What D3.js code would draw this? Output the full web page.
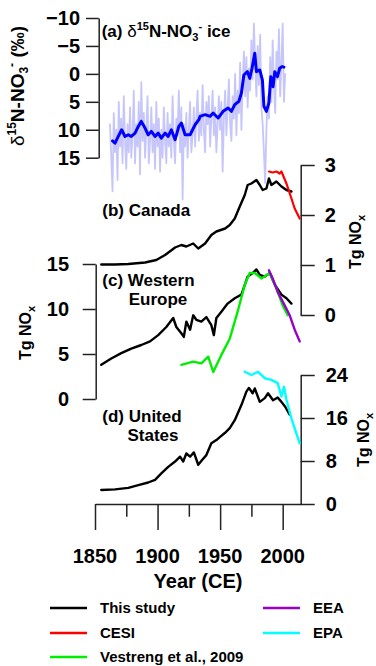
<!DOCTYPE html>
<html><head><meta charset="utf-8">
<script src="https://cdn.jsdelivr.net/npm/d3@7"></script>
<style>
body{margin:0;background:#fff}
svg{display:block}
text{font-family:"Liberation Sans",Arial,sans-serif;font-weight:bold;fill:#000}
</style></head>
<body><svg id="chart" width="376" height="666"></svg>
<script>
// ---------------- DATA ----------------
const yearTicks = [1850, 1875, 1900, 1925, 1950, 1975, 2000];
const yearLabels = [1850, 1900, 1950, 2000];
const iceTicks = [-10, -5, 0, 5, 10, 15];
const canadaTicks = [0, 1, 2, 3];
const europeTicks = [0, 5, 10, 15];
const usTicks = [0, 8, 16, 24];

// (a) ice core d15N-NO3- : raw annual values (first year 1862) and smoothed series
const iceRawStart = 1862;
const iceRaw = [
  9,15,21,7,14,10,19,5,
  13,8,16,4,12,17,9,14,6,15,
  11,3,16,9,13,5,18,1.5,12,7,
  15,10,4,16,12,6,14,9,17,5,
  13,8,17.5,10,15,6,12,16,7,13,
  9,15,4,12,16,8,11,3,14,6,
  22.5,9,13,7,15,10,5,14,11,6,
  13,8,3,12,7,11,2,10,14,5,
  9,4,13,8,3,11,6,14,9,4,
  10,5,17.5,8,3,11,6,1,9,12,
  4,8,0,11,3,7,-2,10,2,-4,
  4,-3,6,-1,3,-6,1,-9,-2,4,
  -5,2,-7,6,9,14,19.5,10,4,8,
  -3,5,-6,2,7,-4,1,-8,4,-2,
  -9,5,0
];
const iceSmooth = [
  [1864,12.0],[1866,12.4],[1868.6,11.2],[1871.3,10.0],[1874,11.2],[1876.6,10.9],
  [1879,11.2],[1882,10.6],[1884.6,9.4],[1887,8.5],[1890,9.7],[1892.5,10.9],
  [1895,10.3],[1898,11.2],[1900.5,10.6],[1903,11.5],[1906,10.6],[1908.5,11.2],
  [1911,10.0],[1914,11.8],[1917,9.4],[1919,8.8],[1922,10.9],[1926,10.9],
  [1930,9.1],[1933,8.2],[1934,7.6],[1938,7.3],[1942,7.6],[1944.4,7.0],
  [1948.4,7.9],[1952.4,6.7],[1956.4,6.1],[1959,6.7],[1961.7,5.5],[1965,4.9],
  [1967,3.45],[1969,0.2],[1971.8,-0.4],[1973.7,0.8],[1975.5,-1.0],[1977.7,-3.7],
  [1979,-0.4],[1981.7,-0.7],[1983.8,1.1],[1985,5.8],[1987,6.7],[1989,5.2],
  [1990.5,0.5],[1992.3,2.3],[1993.7,-0.4],[1995.8,0.5],[1997.6,-1.0],[1999.5,-1.3],[2001,-1.2]
];

// (b) Canada, Tg NOx (right axis 0-3)
const canadaThis = [
  [1855,1.01],[1866,1.01],[1876.6,1.02],[1890,1.05],[1899,1.1],[1906,1.2],[1914,1.35],
  [1919,1.4],[1923,1.37],[1928.5,1.43],[1932.5,1.33],[1938,1.43],[1943,1.6],[1947,1.67],
  [1954,1.73],[1957.7,1.8],[1961.7,1.93],[1965.7,2.17],[1969.7,2.4],[1972,2.6],[1975,2.63],
  [1979,2.7],[1981.7,2.6],[1984,2.5],[1987,2.53],[1989,2.73],[1991,2.6],[1995,2.67],
  [1999,2.57],[2003,2.5],[2007,2.47]
];
const canadaCESI = [
  [1989,2.87],[1992,2.85],[1995,2.87],[1997.6,2.83],[1999,2.87],[2003,2.63],
  [2007,2.33],[2009.6,2.13],[2013.6,1.93]
];

// (c) Western Europe, Tg NOx (left axis 0-15)
const europeThis = [
  [1855,3.8],[1863,4.5],[1871,5.1],[1879,5.6],[1887,6.0],[1894,6.4],[1900.5,7.1],
  [1907,8.0],[1912.5,9.0],[1915,8.0],[1919,7.3],[1921,6.9],[1923,8.6],[1926,7.7],
  [1928.5,9.3],[1931,8.8],[1935,8.6],[1939,9.1],[1943,8.2],[1945,7.1],[1947,9.0],
  [1951,9.7],[1956,10.6],[1961.7,11.2],[1967,11.6],[1972,13.6],[1976,14.0],[1979,14.4],
  [1981.7,13.8],[1985.7,13.6],[1989.7,14.0],[1993.7,12.7],[1999,11.6],[2003,11.2],[2007,10.6]
];
const europeVestreng = [
  [1919,3.8],[1928.5,4.15],[1935,3.96],[1940.5,4.7],[1944.5,3.0],[1951,4.9],
  [1957.7,6.7],[1964,9.7],[1969.7,12.7],[1973.7,14.0],[1977.7,14.0],[1983,13.4],
  [1989.7,14.0],[1995,12.3],[2000,10.4],[2004,9.3]
];
const europeEEA = [
  [1989,14.3],[1992,13.4],[1996,11.9],[2001.6,10.4],[2005.6,9.3],[2009.6,7.7],[2013.6,6.4]
];

// (d) United States, Tg NOx (right axis 0-24)
const usThis = [
  [1855,2.6],[1866,2.73],[1876.6,3.0],[1884.6,3.5],[1892.5,4.0],[1898,4.5],[1903,5.7],
  [1908.5,6.9],[1914,7.9],[1918,8.8],[1920.5,7.9],[1923,9.4],[1926,8.8],[1929,9.6],
  [1932.5,7.3],[1935.6,8.2],[1939,9.1],[1943,11.3],[1947,11.9],[1950,12.5],[1953.7,13.2],
  [1957.7,14.1],[1961.7,15.6],[1967,18.4],[1971,20.9],[1973,21.6],[1976,20.6],
  [1977.7,21.5],[1981.7,19.0],[1985.7,19.7],[1988.3,20.6],[1992.3,19.3],[1996,19.8],
  [1999,19.0],[2002,18.1],[2005.6,16.6]
];
const usEPA = [
  [1969.7,24.6],[1975,24.0],[1980.3,24.6],[1985.7,23.4],[1991,23.1],[1996,22.5],
  [1999,20.0],[2001,21.8],[2003,19.4],[2007,15.9],[2013.6,11.3]
];

const legendItems = [
  {label:"This study", color:"#000000"},
  {label:"CESI", color:"#ff0000"},
  {label:"Vestreng et al., 2009", color:"#00ee00"},
  {label:"EEA", color:"#9900cc"},
  {label:"EPA", color:"#00ffff"}
];

// ---------------- SCALES ----------------
const svg = d3.select("#chart");
const x = d3.scaleLinear().domain([1850, 2014.4]).range([95, 300.7]);
const yA = d3.scaleLinear().domain([-10, 15]).range([18, 157.7]);
const yB = d3.scaleLinear().domain([0, 3]).range([315, 165]);
const yC = d3.scaleLinear().domain([0, 15]).range([399, 264]);
const yD = d3.scaleLinear().domain([0, 24]).range([504, 375]);

const AX = "#222";
const fmt = d3.format("d");
function styleAxis(g){
  g.selectAll("path.domain").attr("stroke", AX).attr("stroke-width", 1.5);
  g.selectAll(".tick line").attr("stroke", AX).attr("stroke-width", 1.5);
  g.selectAll(".tick text").attr("font-size", 20).attr("font-weight", "bold")
    .attr("fill", "#000").attr("font-family", '"Liberation Sans",Arial,sans-serif');
}

// ---------------- AXES ----------------
svg.append("g").attr("transform","translate(98.7,0)")
  .call(d3.axisLeft(yA).tickValues(iceTicks).tickFormat(fmt).tickSize(12.7).tickSizeOuter(0).tickPadding(6))
  .call(styleAxis);

svg.append("g").attr("transform","translate(300.7,0)")
  .call(d3.axisRight(yB).tickValues(canadaTicks).tickFormat(fmt).tickSize(14).tickSizeOuter(0).tickPadding(10))
  .call(styleAxis);

svg.append("g").attr("transform","translate(95.7,0)")
  .call(d3.axisLeft(yC).tickValues(europeTicks).tickFormat(fmt).tickSize(13).tickSizeOuter(0).tickPadding(13.7))
  .call(styleAxis);

svg.append("g").attr("transform","translate(300.7,0)")
  .call(d3.axisRight(yD).tickValues(usTicks).tickFormat(fmt).tickSize(14).tickSizeOuter(0).tickPadding(11))
  .call(styleAxis);

const xg = svg.append("g").attr("transform","translate(0,504)")
  .call(d3.axisBottom(x).tickValues(yearTicks).tickSize(26).tickSizeOuter(0).tickFormat(""))
  .call(styleAxis);
xg.selectAll(".tick line").attr("y2", d => yearLabels.includes(d) ? 26 : 12.7);

svg.append("g").selectAll("text").data(yearLabels).join("text")
  .attr("x", d => x(d)).attr("y", 563).attr("text-anchor","middle")
  .attr("font-size", 20).text(d => d);
svg.append("text").attr("x", 198).attr("y", 588).attr("text-anchor","middle")
  .attr("font-size", 20).text("Year (CE)");

// ---------------- LINES ----------------
function draw(data, yS, color, w){
  svg.append("path").datum(data)
    .attr("fill","none").attr("stroke",color).attr("stroke-width",w)
    .attr("stroke-linejoin","round").attr("stroke-linecap","round")
    .attr("d", d3.line().x(d => x(d[0])).y(d => yS(d[1])));
}
const iceRawPts = iceRaw.map((v,i) => [iceRawStart + i, v]);
draw(iceRawPts, yA, "#c6c6fb", 1.8);
draw(iceSmooth, yA, "#0000ff", 3);

draw(canadaThis, yB, "#000", 2.4);
draw(canadaCESI, yB, "#ff0000", 2.2);

draw(europeThis, yC, "#000", 2.4);
draw(europeVestreng, yC, "#00ee00", 2.4);
draw(europeEEA, yC, "#9900cc", 2.4);

draw(usThis, yD, "#000", 2.4);
draw(usEPA, yD, "#00ffff", 2.4);

// ---------------- LABELS ----------------
const ta = svg.append("text").attr("x", 101.7).attr("y", 36.7).attr("font-size", 17);
ta.append("tspan").text("(a) ");
ta.append("tspan").attr("font-weight","normal").text("δ");
ta.append("tspan").attr("font-size", 11).attr("dy", -7).text("15");
ta.append("tspan").attr("dy", 7).text("N-NO");
ta.append("tspan").attr("font-size", 11).attr("dy", 4).text("3");
ta.append("tspan").attr("font-size", 11).attr("dy", -11).text("-");
ta.append("tspan").attr("dy", 7).text(" ice");

svg.append("text").attr("x", 102.3).attr("y", 215.7).attr("font-size", 17).text("(b) Canada");
svg.append("text").attr("x", 102.3).attr("y", 285.7).attr("font-size", 17).text("(c) Western");
svg.append("text").attr("x", 158).attr("y", 305).attr("font-size", 17).attr("text-anchor","middle").text("Europe");
svg.append("text").attr("x", 102.3).attr("y", 421.7).attr("font-size", 17).text("(d) United");
svg.append("text").attr("x", 153).attr("y", 441).attr("font-size", 17).attr("text-anchor","middle").text("States");

// rotated y label for panel (a)
const yl = svg.append("text").attr("transform","translate(24,86) rotate(-90)")
  .attr("text-anchor","middle").attr("font-size", 19);
yl.append("tspan").attr("font-weight","normal").text("δ");
yl.append("tspan").attr("font-size", 12).attr("dy", -8).text("15");
yl.append("tspan").attr("dy", 8).text("N-NO");
yl.append("tspan").attr("font-size", 12).attr("dy", 4).text("3");
yl.append("tspan").attr("font-size", 12).attr("dy", -12).text("-");
yl.append("tspan").attr("dy", 8).text(" (‰)");

function tgLabel(cx, cy){
  const t = svg.append("text").attr("transform",`translate(${cx},${cy}) rotate(-90)`)
    .attr("text-anchor","middle").attr("font-size", 16);
  t.append("tspan").text("Tg NO");
  t.append("tspan").attr("font-size", 11).attr("dy", 4).text("x");
}
tgLabel(361, 242);
tgLabel(31, 333);
tgLabel(369, 440);

// ---------------- LEGEND ----------------
const legPos = [[50,608],[50,633],[50,657],[263,608],[263,633]];
legendItems.forEach((it,i) => {
  const [lx, ly] = legPos[i];
  svg.append("line").attr("x1", lx).attr("x2", lx+37).attr("y1", ly).attr("y2", ly)
    .attr("stroke", it.color).attr("stroke-width", 2.5);
  svg.append("text").attr("x", lx+50).attr("y", ly+5).attr("font-size", 15).text(it.label);
});
</script></body></html>
